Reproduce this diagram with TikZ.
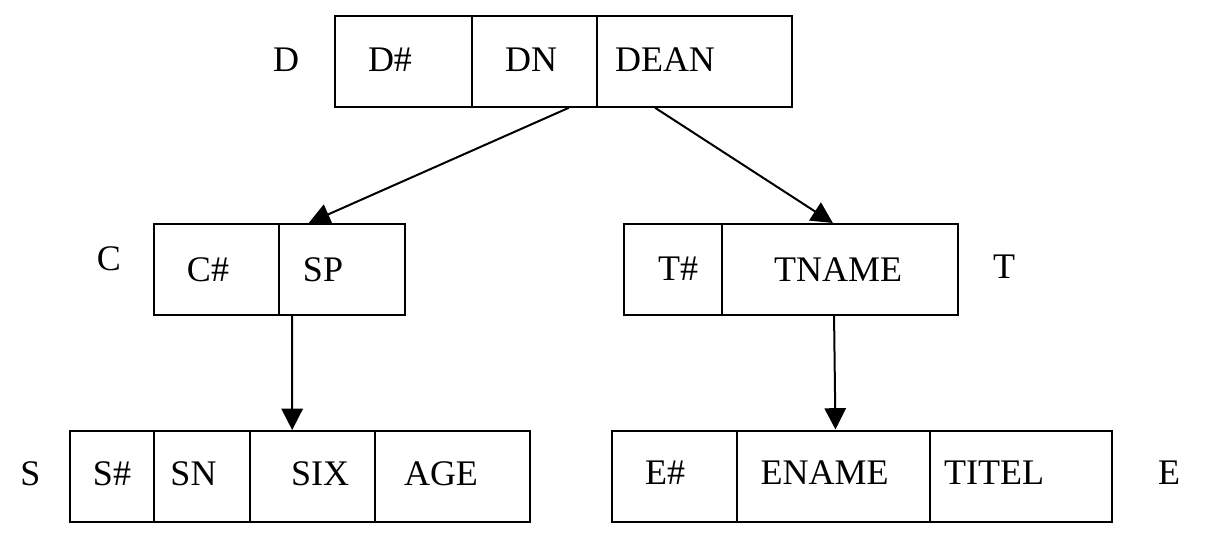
\documentclass[tikz,border=0pt]{standalone}
\usepackage{fontspec}
\setmainfont{Liberation Serif}
\usetikzlibrary{arrows.meta,calc}

\tikzset{every picture/.style={line width=1.5pt}}
\tikzset{cell/.style={draw, rectangle, inner sep=0pt, minimum height=68.25pt},
	txt/.style={inner sep=0pt, font=\fontsize{27}{31}\selectfont},
	link/.style={-{Triangle[length=16pt,width=16pt]}}}

\begin{document}
\begin{tikzpicture}[x=0.75pt,y=0.75pt,yscale=-1,xscale=1]
	\useasboundingbox (0,0) rectangle (1212,557);
	
	%Relation D
	\node [cell, minimum width=102.75pt] (d1) at (403.5,61.3) {};
	\node [cell, minimum width=93.75pt] (d2) at (534.5,61.3) {};
	\node [cell, minimum width=146.25pt] (d3) at (694.5,61.3) {};
	\node [txt] (dlab) at (286,60) {D};
	\node [txt] (d1t) at (390,60) {D\#};
	\node [txt] (d2t) at (531,60) {DN};
	\node [txt] (d3t) at (665,60) {DEAN};
	
	%Relation C
	\node [cell, minimum width=93.75pt] (c1) at (216.5,269.5) {};
	\node [cell, minimum width=94.5pt] (c2) at (342,269.5) {};
	\node [txt] (clab) at (109,259) {C};
	\node [txt] (c1t) at (208,270) {C\#};
	\node [txt] (c2t) at (323,270) {SP};
	
	%Relation T
	\node [cell, minimum width=73.5pt] (t1) at (673,269.5) {};
	\node [cell, minimum width=177pt] (t2) at (840,269.5) {};
	\node [txt] (tlab) at (1004,267) {T};
	\node [txt] (t1t) at (678,269) {T\#};
	\node [txt] (t2t) at (838,269.5) {TNAME};
	
	%Relation S
	\node [cell, minimum width=63pt] (s1) at (112,476.5) {};
	\node [cell, minimum width=72pt] (s2) at (202,476.5) {};
	\node [cell, minimum width=93.75pt] (s3) at (312.5,476.5) {};
	\node [cell, minimum width=116.25pt] (s4) at (452.5,476.5) {};
	\node [txt] (slab) at (30.5,474) {S};
	\node [txt] (s1t) at (112,474) {S\#};
	\node [txt] (s2t) at (193.5,474) {SN};
	\node [txt] (s3t) at (320,474) {SIX};
	\node [txt] (s4t) at (441,474) {AGE};
	
	%Relation E
	\node [cell, minimum width=93.75pt] (e1) at (674.5,476) {};
	\node [cell, minimum width=144.75pt] (e2) at (833.5,476) {};
	\node [cell, minimum width=136.5pt] (e3) at (1021,476) {};
	\node [txt] (elab) at (1169,473) {E};
	\node [txt] (e1t) at (665,473) {E\#};
	\node [txt] (e2t) at (824.5,473) {ENAME};
	\node [txt] (e3t) at (994,473) {TITEL};
	
	%Links
	\draw [link] ($(d2.south west)!0.77!(d2.south east)$) -- ($(c2.north west)!0.24!(c2.north east)$);
	\draw [link] ($(d3.south west)!0.30!(d3.south east)$) -- ($(t2.north west)!0.47!(t2.north east)$);
	\draw [link] ($(c2.south west)!0.11!(c2.south east)$) -- ($(s3.north west)!0.34!(s3.north east)$);
	\draw [link] ($(t2.south west)!0.475!(t2.south east)$) -- ($(e2.north west)!0.51!(e2.north east)$);
	
\end{tikzpicture}
\end{document}
